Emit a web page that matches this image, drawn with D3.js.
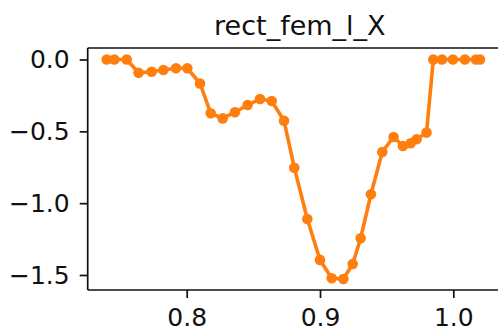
<!DOCTYPE html>
<html>
<head>
<meta charset="utf-8">
<script src="https://cdn.jsdelivr.net/npm/d3@7"></script>
<style>
  html, body { margin: 0; padding: 0; background: #fff; overflow: hidden; }
  svg { display: block; font-family: "DejaVu Sans", sans-serif; }
</style>
</head>
<body>
<svg id="chart" width="498" height="335"></svg>
<script>
const title = "rect_fem_l_X";
const xValues = [0.7400, 0.7457, 0.7550, 0.7639, 0.7737, 0.7825, 0.7920, 0.8005, 0.8100, 0.8180,
                 0.8270, 0.8362, 0.8457, 0.8550, 0.8638, 0.8730, 0.8807, 0.8905, 0.9000, 0.9088,
                 0.9175, 0.9245, 0.9305, 0.9382, 0.9467, 0.9552, 0.9622, 0.9680, 0.9725, 0.9799,
                 0.9850, 0.9915, 0.9997, 1.0087, 1.0170, 1.0200];
const yValues = [0.000, 0.000, 0.000, -0.092, -0.085, -0.073, -0.061, -0.061, -0.167, -0.374,
                 -0.410, -0.367, -0.317, -0.275, -0.289, -0.426, -0.753, -1.110, -1.395, -1.523,
                 -1.528, -1.423, -1.244, -0.938, -0.644, -0.539, -0.602, -0.583, -0.555, -0.509,
                 0.000, 0.000, 0.000, 0.000, 0.000, 0.000];
const xTicks = [0.8, 0.9, 1.0];
const yTicks = [0.0, -0.5, -1.0, -1.5];

const svg = d3.select("#chart");
const mLeft = 87.7, mRight = 512, mTop = 48, mBottom = 290;
const x = d3.scaleLinear().domain([0.72575, 1.04402]).range([mLeft, mRight]);
const y = d3.scaleLinear().domain([-1.6044, 0.080]).range([mBottom, mTop]);

const fmt = d => (d < 0 ? "\u2212" : "") + Math.abs(d).toFixed(1);

const xAxis = svg.append("g").attr("transform", `translate(0,${mBottom})`)
  .call(d3.axisBottom(x).tickValues(xTicks).tickFormat(fmt).tickSize(8).tickPadding(10));
const yAxis = svg.append("g").attr("transform", `translate(${mLeft},0)`)
  .call(d3.axisLeft(y).tickValues(yTicks).tickFormat(fmt).tickSize(8).tickPadding(10));
[xAxis, yAxis].forEach(g => {
  g.selectAll(".domain").attr("stroke", "#111").attr("stroke-width", 1.7);
  g.selectAll(".tick line").attr("stroke", "#111").attr("stroke-width", 1.7);
  g.selectAll(".tick text").attr("fill", "#111").style("font-size", "25px").style("font-family", "DejaVu Sans");
});
xAxis.select(".domain").attr("d", `M${mLeft},0H${mRight}`);
yAxis.select(".domain").attr("d", `M0,${mTop}V${mBottom}`);
svg.append("line").attr("x1", mLeft).attr("x2", mRight).attr("y1", mTop).attr("y2", mTop)
  .attr("stroke", "#111").attr("stroke-width", 1.7);

const line = d3.line().x((d, i) => x(xValues[i])).y(d => y(d));
svg.append("path").datum(yValues).attr("d", line)
  .attr("fill", "none").attr("stroke", "#ff7f0e").attr("stroke-width", 3.6).attr("stroke-linejoin", "round");
svg.append("g").selectAll("circle").data(yValues).join("circle")
  .attr("cx", (d, i) => x(xValues[i])).attr("cy", d => y(d)).attr("r", 5.3)
  .attr("fill", "#ff7f0e");

svg.append("text").attr("x", (mLeft + mRight) / 2).attr("y", 35).attr("text-anchor", "middle")
  .attr("fill", "#111").style("font-size", "27px").text(title);
</script>
</body>
</html>
